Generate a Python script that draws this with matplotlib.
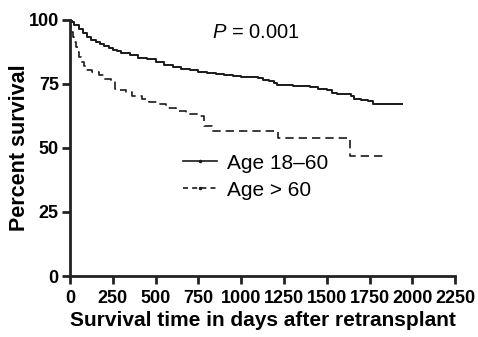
import matplotlib
matplotlib.use("Agg")
import matplotlib.pyplot as plt
from matplotlib.lines import Line2D

plt.rcParams['font.family'] = ['Liberation Sans', 'DejaVu Sans']
plt.rcParams['mathtext.fontset'] = 'custom'
plt.rcParams['mathtext.it'] = 'Liberation Sans:italic'
plt.rcParams['mathtext.rm'] = 'Liberation Sans'

# Age 18-60 survival curve (days, percent)
young_days = [0, 10, 25, 50, 75, 100, 125, 150, 175, 200, 225, 250, 275, 300, 350, 400, 450,
              500, 550, 600, 650, 700, 750, 800, 850, 900, 950, 1000, 1050, 1100, 1130, 1160,
              1190, 1210, 1300, 1350, 1400, 1450, 1500, 1530, 1560, 1620, 1640, 1660, 1700,
              1740, 1770, 1937]
young_pct = [100, 99.2, 98.0, 96.3, 94.8, 93.4, 92.3, 91.3, 90.5, 89.7, 89.0, 88.3, 87.8, 87.2,
             86.2, 85.2, 84.6, 83.5, 82.4, 81.6, 80.8, 80.3, 79.8, 79.4, 79.0, 78.6, 78.2, 77.9,
             77.6, 77.2, 76.6, 76.0, 75.2, 74.6, 74.4, 74.2, 73.8, 73.2, 72.7, 71.6, 71.2, 71.0,
             70.2, 69.2, 68.8, 68.5, 67.0, 67.0]

# Age > 60 survival curve
old_days = [0, 3, 8, 15, 25, 35, 45, 55, 65, 80, 95, 130, 170, 200, 240, 265, 280, 330, 360,
            420, 460, 520, 560, 620, 680, 760, 785, 830, 1215, 1635, 1850]
old_pct = [100, 97.5, 95.5, 93.5, 91.5, 89.5, 87.5, 85.5, 83.5, 82, 80.5, 79.5, 78.5, 77, 76,
           73, 72.5, 72, 70.5, 69, 68, 67, 65.5, 64.5, 63.3, 62.5, 58.5, 56.5, 54, 47, 47]

x_ticks = [0, 250, 500, 750, 1000, 1250, 1500, 1750, 2000, 2250]
y_ticks = [0, 25, 50, 75, 100]

fig = plt.figure(figsize=(4.78, 3.37), dpi=100)
ax = fig.add_axes([0.1464, 0.181, 0.806, 0.7597])

ink = '#1a1a1a'
ax.step(young_days, young_pct, where='post', color=ink, lw=1.4)
ax.step(old_days, old_pct, where='post', color=ink, lw=1.2, linestyle=(0, (5, 3)))

ax.set_xlim(0, 2250)
ax.set_ylim(0, 100)
ax.set_xticks(x_ticks)
ax.set_yticks(y_ticks)
ax.set_xticklabels([str(t) for t in x_ticks], fontweight='bold', fontsize=13)
ax.set_yticklabels([str(t) for t in y_ticks], fontweight='bold', fontsize=13)
for s in ['top', 'right']:
    ax.spines[s].set_visible(False)
for s in ['left', 'bottom']:
    ax.spines[s].set_linewidth(2)
    ax.spines[s].set_color('#222222')
ax.tick_params(direction='out', length=6, width=2, color='#222222', pad=2)
ax.tick_params(axis='x', pad=4)

ax.set_xlabel('Survival time in days after retransplant', fontweight='bold', fontsize=15, labelpad=3)
ax.set_ylabel('Percent survival', fontweight='bold', fontsize=15.5, labelpad=-1)

ax.text(0.369, 0.953, r'$P$ = 0.001', transform=ax.transAxes, fontsize=14.5, ha='left', va='center')

handles = [Line2D([], [], color=ink, lw=1.2, marker='.', markersize=3),
           Line2D([], [], color=ink, lw=1.2, linestyle=(0, (3, 2.5)), marker='.', markersize=3)]
ax.legend(handles, ['Age 18\u201360', 'Age > 60'], loc='center left',
          bbox_to_anchor=(0.2935, 0.388), frameon=False, fontsize=15, numpoints=1,
          handlelength=1.65, handletextpad=0.45, labelspacing=0.38, borderaxespad=0,
          borderpad=0)

fig.savefig('out.png', dpi=100)
